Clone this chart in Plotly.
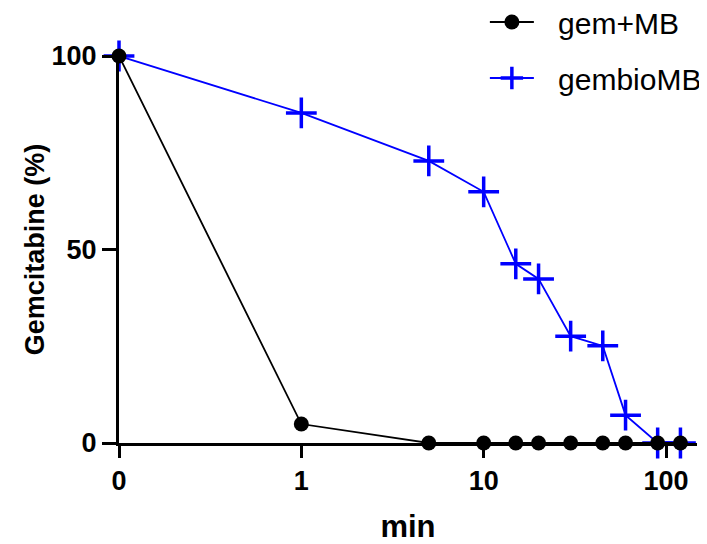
import plotly.graph_objects as go

times = [0, 1, 5, 10, 15, 20, 30, 45, 60, 90, 120]
gem_mb = [100, 4.9, 0, 0, 0, 0, 0, 0, 0, 0, 0]
gembio_mb = [100, 85.3, 72.9, 64.9, 46.3, 42.4, 27.6, 25.1, 7.2, 0, 0]
tick_vals = [0, 1, 10, 100]
tick_text = ["0", "1", "10", "100"]

# on the log axis, 0 min is drawn one decade below 1 min
ZERO_POS = 0.1
px = [t if t > 0 else ZERO_POS for t in times]
tpx = [t if t > 0 else ZERO_POS for t in tick_vals]

GAP = "\u00a0\u00a0\u200a"

fig = go.Figure()
fig.add_trace(go.Scatter(
    x=px, y=gembio_mb, name=GAP + "gembioMB", mode="lines+markers",
    line=dict(color="#0000FF", width=1.8),
    marker=dict(symbol="cross-thin", size=22, color="#0000FF",
                line=dict(color="#0000FF", width=3.5)),
    cliponaxis=False, legendrank=2, legendgroup="b",
))
fig.add_trace(go.Scatter(
    x=px, y=gem_mb, name=GAP + "gem+MB", mode="lines+markers",
    line=dict(color="black", width=1.8),
    marker=dict(symbol="circle", size=15, color="black"),
    cliponaxis=False, legendrank=1, legendgroup="a",
))

FAM = "Liberation Sans, Arial"
tick_font = dict(family=FAM, size=27, color="black", weight="bold")
xtitle_font = dict(family=FAM, size=31, color="black", weight="bold")
ytitle_font = dict(family=FAM, size=27, color="black", weight="bold")

fig.update_layout(
    width=699, height=536,
    paper_bgcolor="white", plot_bgcolor="white",
    margin=dict(l=111, r=10, t=48, b=101, autoexpand=False),
    font=dict(family=FAM, size=22, color="black"),
    legend=dict(x=0.633, y=1.155, xanchor="left", yanchor="top",
                font=dict(family=FAM, size=30, color="black"),
                itemwidth=44,
                traceorder="grouped", tracegroupgap=14, bgcolor="rgba(0,0,0,0)"),
    xaxis=dict(
        type="log", range=[-1, 2.17],
        tickvals=tpx, ticktext=tick_text,
        showline=True, linewidth=3, linecolor="black",
        ticks="outside", tickwidth=3, ticklen=12, tickcolor="black",
        showgrid=False, zeroline=False,
        tickfont=tick_font,
        title=dict(text="min", font=xtitle_font, standoff=23),
    ),
    yaxis=dict(
        range=[0, 100], tickvals=[0, 50, 100],
        showline=True, linewidth=3, linecolor="black",
        ticks="outside", tickwidth=3, ticklen=14, tickcolor="black",
        showgrid=False, zeroline=False,
        tickfont=tick_font,
        title=dict(text="Gemcitabine (%)", font=ytitle_font, standoff=0),
    ),
)

fig.write_html("out.html")
